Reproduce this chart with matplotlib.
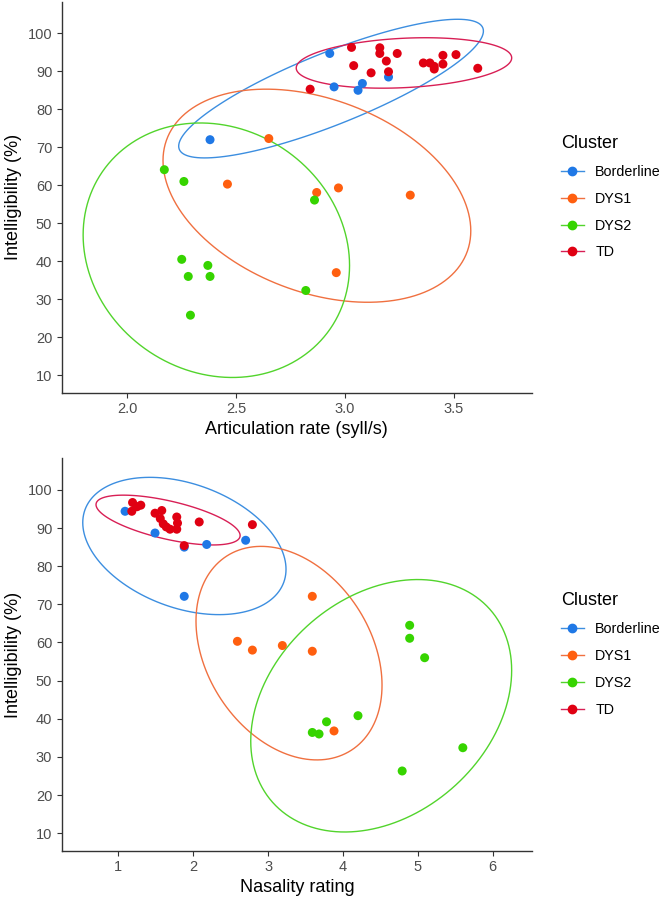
import matplotlib
matplotlib.use("Agg")
import matplotlib.pyplot as plt
from matplotlib.lines import Line2D
from matplotlib.patches import Polygon
import numpy as np

plt.rcParams["font.family"] = ["Liberation Sans", "DejaVu Sans"]

clusters = ["Borderline", "DYS1", "DYS2", "TD"]
point_colors = {"Borderline": "#1f78e6", "DYS1": "#ff5f0f", "DYS2": "#36d400", "TD": "#e00012"}
line_colors = {"Borderline": "#3c8ee0", "DYS1": "#f07040", "DYS2": "#52d42c", "TD": "#d81f55"}

# top panel: articulation rate vs intelligibility
artic_rate = {
    "Borderline": [2.93, 2.95, 3.08, 3.06, 3.20, 2.38],
    "DYS1": [2.65, 2.46, 2.87, 2.97, 2.96, 3.30],
    "DYS2": [2.17, 2.26, 2.86, 2.25, 2.37, 2.28, 2.38, 2.29, 2.82],
    "TD": [3.03, 3.16, 3.16, 3.24, 3.19, 3.04, 3.12, 3.20, 2.84,
           3.36, 3.39, 3.41, 3.41, 3.45, 3.45, 3.51, 3.61],
}
intell_top = {
    "Borderline": [94.7, 85.9, 86.8, 85.0, 88.5, 72.0],
    "DYS1": [72.3, 60.3, 58.1, 59.3, 37.0, 57.4],
    "DYS2": [64.1, 61.0, 56.1, 40.5, 38.9, 36.0, 36.0, 25.8, 32.3],
    "TD": [96.3, 96.2, 94.7, 94.7, 92.7, 91.5, 89.6, 89.9, 85.3,
           92.2, 92.2, 91.3, 90.6, 91.9, 94.2, 94.4, 90.8],
}
# 95% ellipses: centre, half-extent in x and y, correlation
ell_top_cx = {"Borderline": 2.936, "DYS1": 2.871, "DYS2": 2.409, "TD": 3.271}
ell_top_cy = {"Borderline": 85.45, "DYS1": 57.25, "DYS2": 42.9, "TD": 92.2}
ell_top_sx = {"Borderline": 0.700, "DYS1": 0.707, "DYS2": 0.612, "TD": 0.495}
ell_top_sy = {"Borderline": 18.25, "DYS1": 28.05, "DYS2": 33.5, "TD": 6.64}
ell_top_rho = {"Borderline": 0.83, "DYS1": -0.33, "DYS2": -0.12, "TD": 0.20}

# bottom panel: nasality rating vs intelligibility
nasality = {
    "Borderline": [1.09, 1.49, 2.18, 2.70, 1.88, 1.88],
    "DYS1": [3.59, 2.59, 2.79, 3.19, 3.59, 3.88],
    "DYS2": [4.89, 4.89, 5.09, 4.20, 3.78, 3.59, 3.68, 5.60, 4.79],
    "TD": [1.19, 1.30, 1.18, 1.25, 1.49, 1.58, 1.56, 1.60, 1.69,
           1.78, 1.78, 1.79, 2.08, 2.79, 1.88, 1.64],
}
intell_bottom = {
    "Borderline": [94.4, 88.7, 85.7, 86.8, 72.1, 85.0],
    "DYS1": [72.1, 60.3, 58.0, 59.2, 57.7, 36.8],
    "DYS2": [64.5, 61.1, 56.0, 40.8, 39.2, 36.4, 36.0, 32.4, 26.3],
    "TD": [96.7, 96.0, 94.4, 95.6, 93.9, 94.6, 92.5, 91.1, 89.7,
           92.9, 89.7, 91.3, 91.6, 90.9, 85.4, 90.3],
}
ell_bot_cx = {"Borderline": 1.882, "DYS1": 3.279, "DYS2": 4.51, "TD": 1.664}
ell_bot_cy = {"Borderline": 85.3, "DYS1": 57.2, "DYS2": 43.4, "TD": 92.1}
ell_bot_sx = {"Borderline": 1.357, "DYS1": 1.242, "DYS2": 1.742, "TD": 0.962}
ell_bot_sy = {"Borderline": 18.0, "DYS1": 28.0, "DYS2": 33.1, "TD": 6.53}
ell_bot_rho = {"Borderline": -0.34, "DYS1": -0.30, "DYS2": 0.28, "TD": -0.62}


def ellipse_path(cx, cy, sx, sy, rho, segments=150):
    t = np.linspace(0, 2 * np.pi, segments, endpoint=False)
    x = cx + sx * np.cos(t)
    y = cy + sy * (rho * np.cos(t) + np.sqrt(1 - rho ** 2) * np.sin(t))
    return np.column_stack([x, y])


def draw_panel(ax, xs, ys, ell, xlabel, xlim, xticks, xticklabels):
    cx, cy, sx, sy, rho = ell
    for c in clusters:
        pts = ellipse_path(cx[c], cy[c], sx[c], sy[c], rho[c])
        ax.add_patch(Polygon(pts, closed=True, fill=False, edgecolor=line_colors[c], lw=1.0, zorder=2))
    for c in clusters:
        ax.scatter(xs[c], ys[c], s=42, color=point_colors[c], edgecolors="none", zorder=3)
    ax.set_xlim(*xlim)
    ax.set_ylim(5.4, 108.3)
    ax.set_xticks(xticks)
    ax.set_xticklabels(xticklabels)
    ax.set_yticks(range(10, 101, 10))
    ax.spines["top"].set_visible(False)
    ax.spines["right"].set_visible(False)
    for s in ("left", "bottom"):
        ax.spines[s].set_color("#333333")
        ax.spines[s].set_linewidth(1.0)
    ax.tick_params(colors="#333333", labelcolor="#4d4d4d", labelsize=10.5, length=3.5, width=0.8)
    ax.set_xlabel(xlabel, fontsize=13, color="black", labelpad=3)
    ax.set_ylabel("Intelligibility (%)", fontsize=13, color="black", labelpad=4)
    handles = [Line2D([0], [0], color=line_colors[c], lw=1.0, marker="o", markersize=6,
                      markerfacecolor=point_colors[c], markeredgecolor=point_colors[c]) for c in clusters]
    leg = ax.legend(handles, clusters, title="Cluster", loc="center left", bbox_to_anchor=(1.05, 0.5),
                    frameon=False, fontsize=10.3, title_fontsize=13, handlelength=1.6,
                    handletextpad=0.8, labelspacing=0.9, borderaxespad=0)
    leg._legend_box.align = "left"


fig = plt.figure(figsize=(6.64, 9.0), dpi=100)
ax1 = fig.add_axes([0.0934, 0.5637, 0.7074, 0.4343])
ax2 = fig.add_axes([0.0934, 0.0548, 0.7074, 0.4360])

draw_panel(ax1, artic_rate, intell_top,
           (ell_top_cx, ell_top_cy, ell_top_sx, ell_top_sy, ell_top_rho),
           "Articulation rate (syll/s)", (1.70, 3.858),
           [2.0, 2.5, 3.0, 3.5], ["2.0", "2.5", "3.0", "3.5"])
draw_panel(ax2, nasality, intell_bottom,
           (ell_bot_cx, ell_bot_cy, ell_bot_sx, ell_bot_sy, ell_bot_rho),
           "Nasality rating", (0.248, 6.52),
           [1, 2, 3, 4, 5, 6], ["1", "2", "3", "4", "5", "6"])

fig.savefig("out.png", dpi=100)
